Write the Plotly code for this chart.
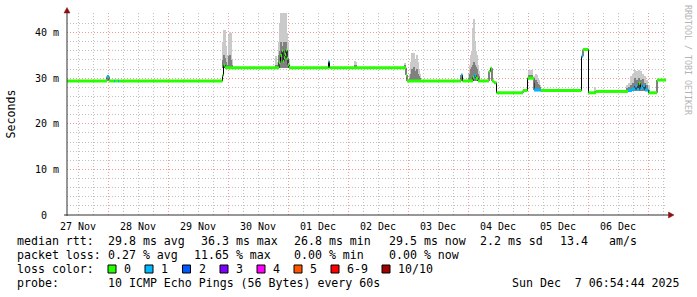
import plotly.graph_objects as go
from datetime import datetime, timedelta

# ---------------- data ----------------
# median RTT (ms) as step segments: start time, value, lost pings (0..10)
seg_start = [
    "2025-11-27 07:36", "2025-11-27 23:36", "2025-11-28 00:24", "2025-11-28 02:24",
    "2025-11-28 02:48", "2025-11-28 04:00", "2025-11-28 04:24", "2025-11-29 21:48",
    "2025-11-29 22:12", "2025-11-29 22:48", "2025-11-30 20:24", "2025-11-30 21:00",
    "2025-11-30 21:36", "2025-11-30 22:00", "2025-11-30 22:24", "2025-11-30 22:48",
    "2025-11-30 23:12", "2025-11-30 23:36", "2025-12-01 00:00", "2025-12-01 00:24",
    "2025-12-01 16:12", "2025-12-01 16:36", "2025-12-02 23:12", "2025-12-02 23:36",
    "2025-12-03 21:12", "2025-12-03 21:48", "2025-12-04 02:00", "2025-12-04 02:36",
    "2025-12-04 03:12", "2025-12-04 04:00", "2025-12-04 08:24", "2025-12-04 09:00",
    "2025-12-04 09:36", "2025-12-04 10:24", "2025-12-04 11:24", "2025-12-04 22:00",
    "2025-12-04 23:48", "2025-12-05 02:24", "2025-12-05 05:12", "2025-12-05 21:24",
    "2025-12-05 22:00", "2025-12-06 00:12", "2025-12-06 03:12", "2025-12-06 16:00",
    "2025-12-06 17:36", "2025-12-06 18:48", "2025-12-06 19:36", "2025-12-06 20:24",
    "2025-12-06 21:00", "2025-12-06 22:00", "2025-12-06 22:48", "2025-12-07 00:12",
    "2025-12-07 03:36",
]
seg_median = [
    29.4, 30.4, 29.4, 29.4, 29.4, 29.4, 29.4, 30.6,
    32.9, 32.3, 33.4, 35.0, 36.0, 33.7, 34.5, 35.2,
    36.2, 34.4, 33.0, 32.3, 33.6, 32.3, 30.7, 29.4,
    30.7, 29.4, 30.2, 30.6, 30.0, 29.4, 31.5, 32.2,
    29.4, 29.0, 26.8, 27.3, 30.0, 27.4, 27.3, 34.8,
    36.3, 26.8, 27.1, 27.3, 27.6, 28.3, 27.5, 28.9,
    27.8, 28.4, 27.4, 26.8, 29.6,
]
seg_loss = [
    0, 1, 0, 1, 0, 1, 0, 0,
    0, 0, 0, 0, 0, 0, 0, 0,
    0, 0, 0, 0, 1, 0, 0, 0,
    1, 0, 0, 1, 0, 0, 0, 0,
    0, 0, 0, 0, 0, 1, 0, 1,
    0, 0, 0, 1, 1, 1, 1, 0,
    1, 1, 1, 0, 0,
]
data_end = "2025-12-07 07:12"

# smoke (spread of the individual pings, ms)
smoke_time = [
    "2025-11-29 22:00", "2025-11-29 22:24", "2025-11-29 22:48", "2025-11-29 23:12",
    "2025-11-29 23:36", "2025-11-30 00:00", "2025-11-30 00:24", "2025-11-30 00:48",
    "2025-11-30 01:12", "2025-11-30 01:36",
    "2025-11-30 19:12", "2025-11-30 19:36", "2025-11-30 20:24", "2025-11-30 20:48",
    "2025-11-30 21:12", "2025-11-30 21:36", "2025-11-30 22:00", "2025-11-30 22:24",
    "2025-11-30 22:48", "2025-11-30 23:12", "2025-11-30 23:36", "2025-12-01 00:00",
    "2025-12-01 00:24",
    "2025-12-02 02:48", "2025-12-02 03:12", "2025-12-02 22:48",
    "2025-12-03 00:48", "2025-12-03 01:12", "2025-12-03 01:36", "2025-12-03 02:00",
    "2025-12-03 02:24", "2025-12-03 02:48", "2025-12-03 03:12", "2025-12-03 03:36",
    "2025-12-03 04:00", "2025-12-03 04:24", "2025-12-03 04:48",
    "2025-12-04 00:24", "2025-12-04 00:48", "2025-12-04 01:12", "2025-12-04 01:36",
    "2025-12-04 02:00", "2025-12-04 02:24", "2025-12-04 02:48", "2025-12-04 03:12",
    "2025-12-04 03:36", "2025-12-04 04:00", "2025-12-04 04:24",
    "2025-12-05 00:24", "2025-12-05 00:48", "2025-12-05 01:12", "2025-12-05 01:36",
    "2025-12-05 02:48", "2025-12-05 03:12", "2025-12-05 03:36", "2025-12-05 04:00",
    "2025-12-05 04:24", "2025-12-05 04:48",
    "2025-12-06 02:48", "2025-12-06 15:36", "2025-12-06 16:24", "2025-12-06 17:12",
    "2025-12-06 18:00", "2025-12-06 18:48", "2025-12-06 19:36", "2025-12-06 20:24",
    "2025-12-06 21:12", "2025-12-06 22:00", "2025-12-06 22:48", "2025-12-06 23:36",
    "2025-12-07 00:24",
]
smoke_lo = [
    32.3, 32.3, 32.3, 32.3, 32.3, 32.3, 32.3, 32.3, 32.3, 32.3,
    32.3, 32.3, 32.3, 32.3, 32.3, 32.3, 32.3, 32.3, 32.3, 32.3, 32.3, 32.3, 32.3,
    32.3, 32.3, 32.3,
    29.4, 29.4, 29.4, 29.4, 29.4, 29.4, 29.4, 29.4, 29.4, 29.4, 29.4,
    29.4, 29.4, 29.4, 29.4, 29.4, 29.4, 29.4, 29.4, 29.4, 29.4, 29.4,
    30.0, 30.0, 30.0, 30.0, 27.4, 27.4, 27.4, 27.4, 27.4, 27.4,
    26.8, 27.1, 27.1, 27.1, 27.1, 27.1, 27.1, 27.1, 27.1, 27.1, 27.1, 27.1, 26.8,
]
smoke_mid = [
    34.0, 35.0, 34.5, 33.5, 33.0, 33.0, 34.8, 35.0, 34.0, 32.8,
    33.0, 32.8, 35.0, 36.0, 38.0, 37.0, 36.0, 38.0, 37.0, 38.0, 36.0, 34.0, 33.0,
    32.8, 33.0, 32.8,
    30.0, 31.0, 32.0, 32.0, 32.5, 31.0, 31.5, 32.0, 31.0, 30.5, 30.0,
    30.0, 31.0, 32.0, 32.5, 33.0, 33.5, 33.0, 32.5, 32.0, 31.0, 30.5,
    30.6, 30.8, 30.6, 30.7, 29.0, 29.5, 29.2, 28.8, 28.5, 28.0,
    27.3, 27.8, 28.0, 28.5, 29.0, 30.0, 29.5, 30.0, 29.5, 29.8, 29.0, 28.5, 27.5,
]
smoke_hi = [
    38.0, 40.5, 40.6, 37.0, 34.0, 35.0, 39.5, 40.2, 40.0, 34.0,
    34.8, 33.5, 38.0, 42.0, 44.3, 44.3, 44.3, 44.3, 44.3, 44.3, 40.0, 38.0, 34.0,
    33.8, 33.5, 33.3,
    31.0, 33.5, 35.5, 34.0, 35.5, 33.0, 34.0, 35.0, 33.5, 32.0, 31.0,
    31.0, 33.0, 35.0, 36.0, 41.0, 43.0, 38.0, 35.9, 35.0, 33.0, 31.5,
    31.5, 31.9, 31.5, 31.8, 30.5, 31.0, 30.8, 30.0, 29.5, 28.5,
    28.0, 28.5, 29.0, 30.5, 31.0, 31.8, 31.5, 31.8, 31.5, 31.0, 30.5, 29.5, 28.5,
]

y_tickvals = [0, 10, 20, 30, 40]
y_ticktext = ["0\u00a0\u00a0", "10 m", "20 m", "30 m", "40 m"]

stat_rtt = ["29.8 ms avg", "36.3 ms max", "26.8 ms min", "29.5 ms now", "2.2 ms sd", "13.4", "am/s"]
stat_loss = ["0.27 % avg", "11.65 % max", "0.00 % min", "0.00 % now"]
loss_labels = ["0", "1", "2", "3", "4", "5", "6-9", "10/10"]
probe_text = "10 ICMP Echo Pings (56 Bytes) every 60s"
stamp_text = "Sun Dec\u00a0\u00a07 06:54:44 2025"

# ---------------- styles / layout ----------------
loss_colors = ["#26ff00", "#00b8ff", "#0059ff", "#7e00ff", "#ff00ff", "#ff5500", "#ff0000", "#a10000"]
MONO = "DejaVu Sans Mono"
W, H = 697, 297
L, R, T, B = 67, 30, 13, 82
PW, PH = W - L - R, H - T - B


def PX(x):
    return (x - L) / PW


def PY(y):
    return (T + PH - y) / PH


fmt = "%Y-%m-%d %H:%M"
starts = [datetime.strptime(s, fmt) for s in seg_start]
ends = starts[1:] + [datetime.strptime(data_end, fmt)]

fig = go.Figure()

# smoke
bar_w = 28 * 60 * 1000
fig.add_trace(go.Bar(x=smoke_time, y=[h - l for h, l in zip(smoke_hi, smoke_lo)], base=smoke_lo,
                     width=bar_w, marker=dict(color="#cacaca", line=dict(width=0)), hoverinfo="skip"))
fig.add_trace(go.Bar(x=smoke_time, y=[m - l for m, l in zip(smoke_mid, smoke_lo)], base=smoke_lo,
                     width=bar_w, marker=dict(color="#808080", line=dict(width=0)), hoverinfo="skip"))

# black median step line
mx = starts + [ends[-1]]
my = seg_median + [seg_median[-1]]
fig.add_trace(go.Scatter(x=mx, y=my, mode="lines", line=dict(color="#000000", width=1, shape="hv"),
                         hoverinfo="skip"))

# colored loss segments
for lv in sorted(set(seg_loss)):
    xs, ys = [], []
    for s, e, v, lo in zip(starts, ends, seg_median, seg_loss):
        if lo == lv:
            xs += [s, e, None]
            ys += [v, v, None]
    fig.add_trace(go.Scatter(x=xs, y=ys, mode="lines", line=dict(color=loss_colors[lv], width=3),
                             hoverinfo="skip", connectgaps=False))

maj = "rgba(235,120,120,0.75)"
mnr = "rgba(150,150,150,0.6)"
dash = "1px,2px"

fig.update_layout(
    width=W, height=H, margin=dict(l=L, r=R, t=T, b=B),
    paper_bgcolor="white", plot_bgcolor="white", showlegend=False,
    barmode="overlay", bargap=0,
    font=dict(family=MONO, size=10, color="#000000"),
)
fig.update_xaxes(
    type="date", range=["2025-11-27 07:36", "2025-12-07 07:36"],
    tick0="2025-11-27", dtick=86400000, tickformat="%d %b", ticklabelmode="period",
    showgrid=True, gridcolor=maj, griddash=dash, gridwidth=1,
    minor=dict(dtick=6 * 3600 * 1000, tick0="2025-11-27", showgrid=True, gridcolor=mnr, griddash=dash),
    showline=False, zeroline=False, ticks="", ticklabelstandoff=4,
    tickfont=dict(family=MONO, size=10, color="#000000"),
)
fig.update_yaxes(
    range=[0, 44.3], tickmode="array", tickvals=y_tickvals, ticktext=y_ticktext,
    showgrid=True, gridcolor=maj, griddash=dash, gridwidth=1,
    minor=dict(tickmode="array", tickvals=[v for v in range(2, 44, 2) if v % 10], showgrid=True,
               gridcolor=mnr, griddash=dash),
    showline=False, zeroline=False, ticks="", ticklabelstandoff=7,
    tickfont=dict(family=MONO, size=10, color="#000000"),
)

shapes = []
axis_col = "#303030"
arrow_col = "#8b1010"
shapes.append(dict(type="line", xref="paper", yref="paper", x0=PX(67), x1=PX(67), y0=PY(12), y1=PY(216),
                   line=dict(color=axis_col, width=1)))
shapes.append(dict(type="line", xref="paper", yref="paper", x0=PX(64), x1=PX(669), y0=PY(215), y1=PY(215),
                   line=dict(color=axis_col, width=1)))
shapes.append(dict(type="path", xref="paper", yref="paper",
                   path=f"M {PX(67)},{PY(7.5)} L {PX(64)},{PY(13)} L {PX(70)},{PY(13)} Z",
                   fillcolor=arrow_col, line=dict(color=arrow_col, width=0.5)))
shapes.append(dict(type="path", xref="paper", yref="paper",
                   path=f"M {PX(674)},{PY(215)} L {PX(668.5)},{PY(212)} L {PX(668.5)},{PY(218)} Z",
                   fillcolor=arrow_col, line=dict(color=arrow_col, width=0.5)))

ann = []
TF = dict(family=MONO, size=11.6, color="#000000")


def txt(x, y, s, anchor="left"):
    ann.append(dict(x=PX(x), y=PY(y), xref="paper", yref="paper", text=s, showarrow=False,
                    xanchor=anchor, yanchor="middle", font=TF, borderpad=0))


row = [241.5, 255.2, 269, 282.8]
txt(16, row[0], "median rtt:")
for x, s in zip([107.3, 200, 292.7, 388, 479.3, 559.3, 607.7], stat_rtt):
    txt(x, row[0], s)
txt(16, row[1], "packet loss:")
for x, s in zip([107.3, 193, 292.7, 388], stat_loss):
    txt(x, row[1], s)
txt(16, row[2], "loss color:")
box_x = [108, 145, 182.5, 220, 257, 294, 331, 382]
for bx, lab, col in zip(box_x, loss_labels, loss_colors):
    shapes.append(dict(type="rect", xref="paper", yref="paper", x0=PX(bx), x1=PX(bx + 8),
                       y0=PY(273), y1=PY(265), fillcolor=col, line=dict(color="#000000", width=1)))
    txt(bx + 15, row[2], lab)
txt(16, row[3], "probe:")
txt(107.3, row[3], probe_text)
txt(681, row[3], stamp_text, anchor="right")

ann.append(dict(x=PX(10.5), y=PY(114), xref="paper", yref="paper", text="Seconds", showarrow=False,
                textangle=-90, xanchor="center", yanchor="middle", font=TF))
ann.append(dict(x=PX(688), y=PY(60), xref="paper", yref="paper", text="RRDTOOL / TOBI OETIKER",
                showarrow=False, textangle=90, xanchor="center", yanchor="middle",
                font=dict(family=MONO, size=8.3, color="#b4b4b4")))

fig.update_layout(shapes=shapes, annotations=ann)
fig.write_html("out.html")
